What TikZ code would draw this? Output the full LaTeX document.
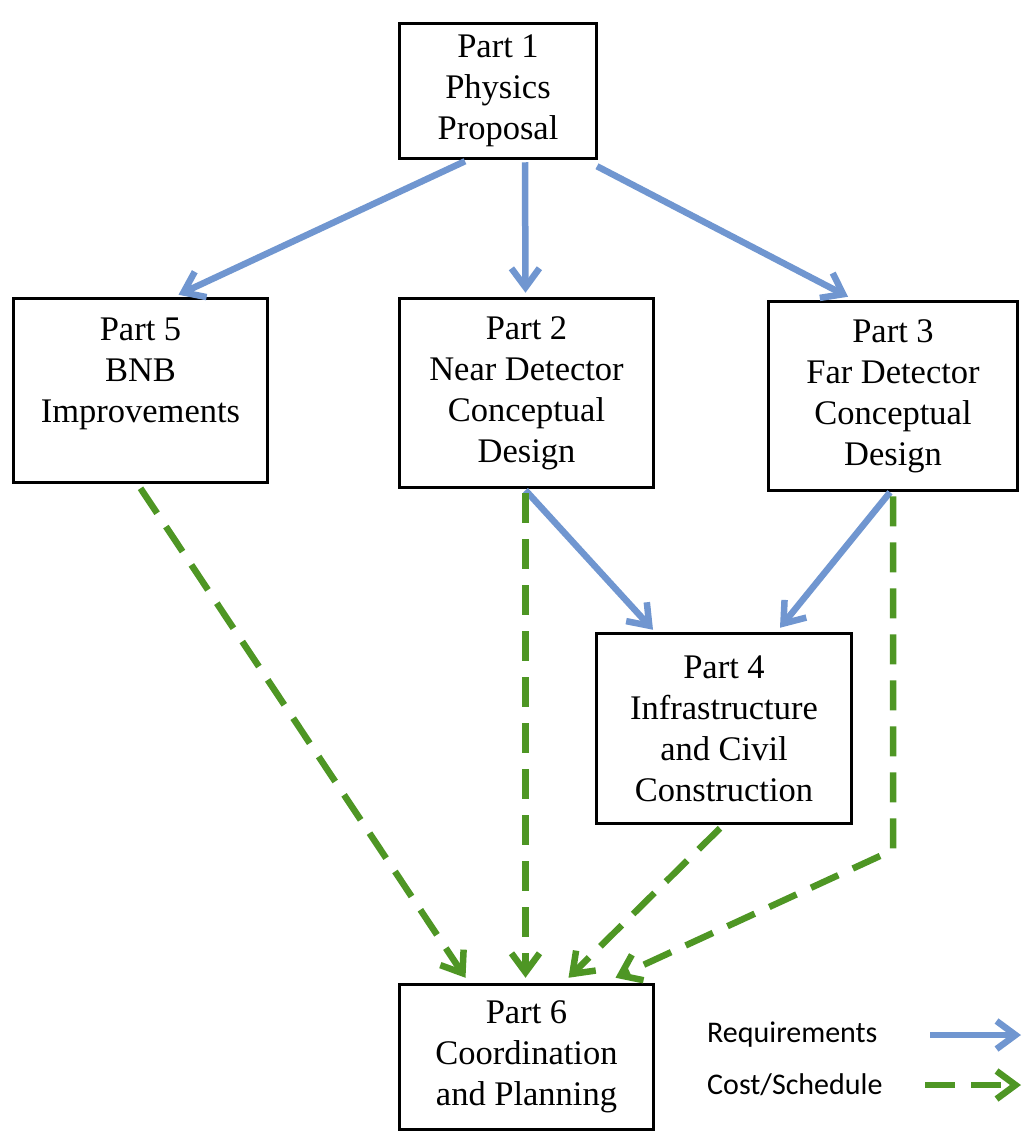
\documentclass[tikz,border=0pt]{standalone}
\usepackage{fontspec}
\setmainfont{Liberation Serif}
\newfontfamily\legendfont{Carlito}
\usetikzlibrary{arrows.meta,calc}
\definecolor{reqblue}{RGB}{112,150,208}
\definecolor{costgreen}{RGB}{78,150,36}
\tikzset{
  partbox/.style={draw=black, line width=3.5pt, fill=white, inner sep=0pt, align=center,
    font=\fontsize{34.5}{41}\selectfont},
  reqarrow/.style={draw=reqblue, line width=6.5pt, -{Straight Barb[length=19pt,width=28pt,line width=6.5pt]}},
  costarrow/.style={draw=costgreen, line width=6.5pt, dash pattern=on 30pt off 16pt,
    -{Straight Barb[length=19pt,width=28pt,line width=6.5pt]}},
  legendtext/.style={inner sep=0pt, anchor=west, font=\legendfont\fontsize{30}{34}\selectfont}
}
\begin{document}
\begin{tikzpicture}[x=1pt,y=-1pt]
\useasboundingbox (0,0) rectangle (1025,1133);
\node[partbox, minimum width=197pt, minimum height=135pt] (p1) at (498,91) {Part 1\\Physics\\Proposal};
\node[partbox, minimum width=254pt, minimum height=184pt] (p5) at (140.5,390.5) {Part 5\\BNB\\Improvements\\[-12pt]\strut};
\node[partbox, minimum width=254pt, minimum height=189pt] (p2) at (526.5,393) {Part 2\\Near Detector\\Conceptual\\Design};
\node[partbox, minimum width=249pt, minimum height=189pt] (p3) at (893,396) {Part 3\\Far Detector\\Conceptual\\Design};
\node[partbox, minimum width=255pt, minimum height=190pt] (p4) at (724,728.5) {Part 4\\Infrastructure\\and Civil\\Construction};
\node[partbox, minimum width=254pt, minimum height=145pt] (p6) at (526.5,1057) {Part 6\\Coordination\\and Planning};

% requirements
\draw[reqarrow] ($(p1.south)+(-33,1)$) -- ($(p5.north)+(38,-2)$);
\draw[reqarrow] ($(p1.south)+(27,2)$) -- ($(p2.north)+(-1,-4)$);
\draw[reqarrow] ($(p1.south)+(99,6)$) -- ($(p3.north)+(-45,-3)$);
\draw[reqarrow] ($(p2.south)+(-1,1)$) -- ($(p4.north)+(-71,-2)$);
\draw[reqarrow] ($(p3.south)+(-3,0)$) -- ($(p4.north)+(56,-4)$);

% cost/schedule
\draw[costarrow] ($(p5.south)+(0,4)$) -- ($(p6.north)+(-61,-5)$);
\draw[costarrow] ($(p2.south)+(-1,4)$) -- ($(p6.north)+(-1,-5)$);
\draw[costarrow] ($(p4.south)+(-4,3)$) -- ($(p6.north)+(42,-5)$);
\coordinate (bend) at (893,850);
\draw[costarrow] ($(p3.south)+(0,4)$) -- (bend) -- ($(p6.north)+(89,-5)$);

% legend
\node[legendtext] (lreq) at (707,1035) {Requirements};
\node[legendtext] (lcost) at (707,1085) {Cost/Schedule};
\coordinate (lreqA) at (930,1035);
\coordinate (lreqB) at (1021,1035);
\coordinate (lcostA) at (925,1085);
\coordinate (lcostB) at (1021,1085);
\draw[reqarrow] (lreqA) -- (lreqB);
\draw[costarrow] (lcostA) -- (lcostB);
\end{tikzpicture}
\end{document}
